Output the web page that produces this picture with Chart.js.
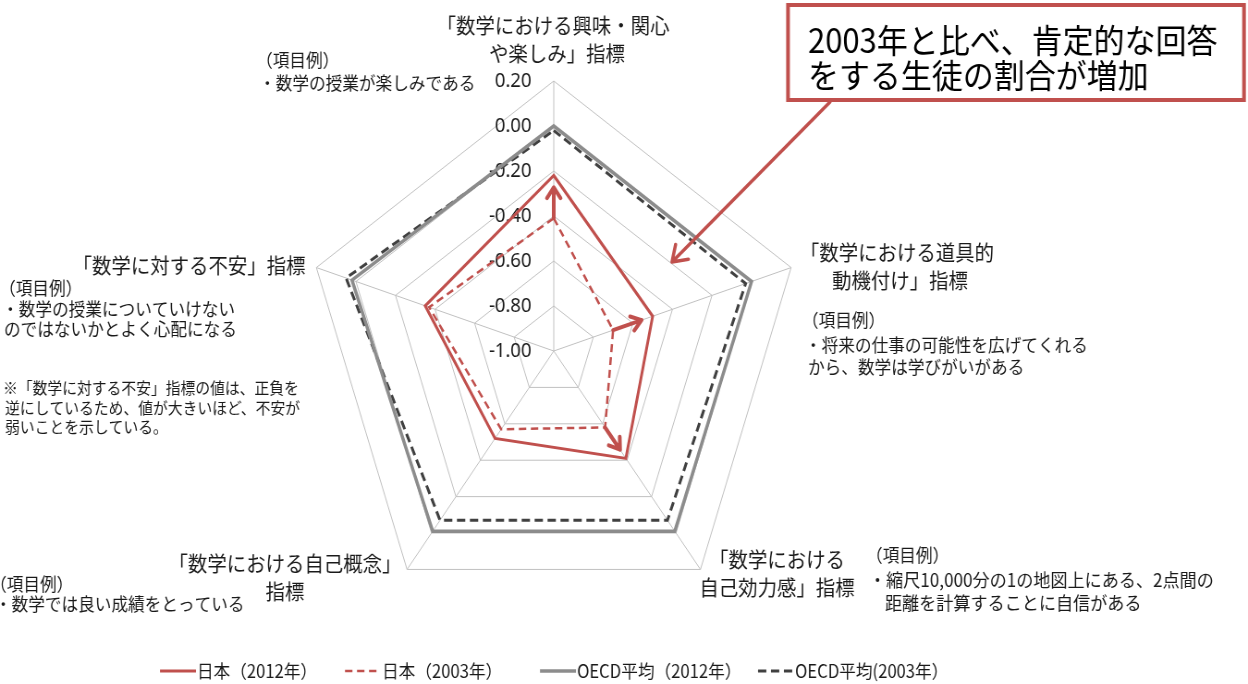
<!DOCTYPE html>
<html>
<head>
<meta charset="utf-8">
<script src="https://cdn.jsdelivr.net/npm/chart.js@4.4.1/dist/chart.umd.min.js"></script>
<style>
  body { margin: 0; background: #fff; }
</style>
</head>
<body>
<canvas id="radar" width="1350" height="684" style="display:block;width:1248px;height:684px"></canvas>
<script>
// axis names (top, then clockwise)
const categories = [
    ["「数学における興味・関心", "や楽しみ」指標"],
    ["「数学における道具的", "動機付け」指標"],
    ["「数学における", "自己効力感」指標"],
    ["「数学における自己概念」", "指標"],
    ["「数学に対する不安」指標"]
];
const seriesNames = ["日本（2012年）", "日本（2003年）", "OECD平均（2012年）", "OECD平均(2003年）"];
const japan2012 = [-0.22, -0.50, -0.41, -0.52, -0.35];
const japan2003 = [-0.41, -0.70, -0.58, -0.57, -0.37];
const oecd2012 = [0.00, 0.00, -0.01, -0.01, 0.02];
const oecd2003 = [-0.02, -0.03, -0.07, -0.07, 0.05];
const scaleMin = -1.0;
const scaleMax = 0.2;
const scaleStep = 0.2;

// the reference picture is squeezed sideways, so the canvas is drawn wider and shown at 1248px
const SX = 1248 / 1350;
const X = v => v / SX;
const RED = "#c0504d";
const INK = "#1a1a1a";
const JP = '"Noto Sans CJK JP", sans-serif';

function txt(ctx, s, x, y, size, align, color) {
    ctx.font = size + "px " + JP;
    ctx.textAlign = align || "left";
    ctx.textBaseline = "middle";
    ctx.fillStyle = color || INK;
    ctx.fillText(s, X(x), y);
}

function arrow(ctx, x1, y1, x2, y2, w, head) {
    const a = Math.atan2(y2 - y1, x2 - x1);
    ctx.save();
    ctx.strokeStyle = RED;
    ctx.lineWidth = w;
    ctx.lineCap = "round";
    ctx.lineJoin = "round";
    ctx.setLineDash([]);
    ctx.beginPath();
    ctx.moveTo(x1, y1);
    ctx.lineTo(x2, y2);
    ctx.moveTo(x2 - head * Math.cos(a - 0.6), y2 - head * Math.sin(a - 0.6));
    ctx.lineTo(x2, y2);
    ctx.lineTo(x2 - head * Math.cos(a + 0.6), y2 - head * Math.sin(a + 0.6));
    ctx.stroke();
    ctx.restore();
}

const tickLabels = {
    id: "tickLabels",
    beforeDatasetsDraw(chart) {
        const r = chart.scales.r;
        const ctx = chart.ctx;
        ctx.save();
        ctx.font = '20px "Noto Sans", sans-serif';
        ctx.textAlign = "right";
        ctx.textBaseline = "middle";
        ctx.fillStyle = INK;
        r.ticks.forEach(t => {
            const y = r.yCenter - r.getDistanceFromCenterForValue(t.value);
            const v = Math.abs(t.value) < 1e-9 ? 0 : t.value;
            ctx.fillText(v.toFixed(2), r.xCenter - 24, y);
        });
        ctx.restore();
    }
};

const notes = {
    id: "notes",
    afterDraw(chart) {
        const ctx = chart.ctx;
        const r = chart.scales.r;
        ctx.save();

        // axis names
        txt(ctx, categories[0][0], 553, 25, 21, "center");
        txt(ctx, categories[0][1], 557, 53, 21, "center");
        txt(ctx, categories[1][0], 897, 252, 21, "center");
        txt(ctx, categories[1][1], 900, 280, 21, "center");
        txt(ctx, categories[2][0], 777, 559, 21, "center");
        txt(ctx, categories[2][1], 777, 587, 21, "center");
        txt(ctx, categories[3][0], 285, 563, 21, "center");
        txt(ctx, categories[3][1], 285, 591, 21, "center");
        txt(ctx, categories[4][0], 189, 265, 21, "center");

        // item examples
        txt(ctx, "（項目例）", 256, 60, 18);
        txt(ctx, "・数学の授業が楽しみである", 259, 83, 18);
        txt(ctx, "（項目例）", -1, 288, 18);
        txt(ctx, "・数学の授業についていけない", 2, 309, 18);
        txt(ctx, "のではないかとよく心配になる", 4, 329, 18);
        txt(ctx, "※「数学に対する不安」指標の値は、正負を", 3, 388, 16);
        txt(ctx, "逆にしているため、値が大きいほど、不安が", 5, 408, 16);
        txt(ctx, "弱いことを示している。", 5, 427, 16);
        txt(ctx, "（項目例）", 802, 320, 18);
        txt(ctx, "・将来の仕事の可能性を広げてくれる", 805, 345, 18);
        txt(ctx, "から、数学は学びがいがある", 808, 367, 18);
        txt(ctx, "（項目例）", -10, 584, 18);
        txt(ctx, "・数学では良い成績をとっている", -5, 604, 18);
        txt(ctx, "（項目例）", 866, 555, 18);
        txt(ctx, "・縮尺10,000分の1の地図上にある、2点間の", 869, 580, 18.5);
        txt(ctx, "距離を計算することに自信がある", 885, 603, 18.5);

        // change arrows 2003 -> 2012 on the first three axes
        for (let i = 0; i < 3; i++) {
            const p0 = r.getPointPositionForValue(i, japan2003[i]);
            const p1 = r.getPointPositionForValue(i, japan2012[i]);
            const ex = p0.x + (p1.x - p0.x) * 0.72;
            const ey = p0.y + (p1.y - p0.y) * 0.72;
            arrow(ctx, p0.x, p0.y, ex, ey, 4, 13);
        }

        // callout
        ctx.fillStyle = "#fff";
        ctx.fillRect(X(788), 5, X(1244) - X(788), 95);
        ctx.strokeStyle = RED;
        ctx.lineWidth = 4;
        ctx.strokeRect(X(788), 5, X(1244) - X(788), 95);
        txt(ctx, "2003年と比べ、肯定的な回答", 808, 40, 33.5, "left", "#000");
        txt(ctx, "をする生徒の割合が増加", 808, 75, 33.5, "left", "#000");
        arrow(ctx, X(830), 102, X(672), 262, 3.5, 18);

        // legend
        const starts = [160, 345, 540, 758];
        chart.data.datasets.forEach((ds, i) => {
            const x0 = X(starts[i]);
            const y = 671;
            ctx.save();
            ctx.strokeStyle = ds.borderColor;
            ctx.lineWidth = ds.borderWidth;
            ctx.setLineDash(ds.borderDash || []);
            ctx.beginPath();
            ctx.moveTo(x0, y);
            ctx.lineTo(x0 + X(36), y);
            ctx.stroke();
            ctx.restore();
            ctx.font = "18px " + JP;
            ctx.textAlign = "left";
            ctx.textBaseline = "middle";
            ctx.fillStyle = INK;
            ctx.fillText(ds.label, x0 + X(37), y);
        });

        ctx.restore();
    }
};

new Chart(document.getElementById("radar"), {
    type: "radar",
    data: {
        labels: categories.map(c => c.join("")),
        datasets: [
            { label: seriesNames[0], data: japan2012, borderColor: RED, borderWidth: 3 },
            { label: seriesNames[1], data: japan2003, borderColor: RED, borderWidth: 2.5, borderDash: [8, 5] },
            { label: seriesNames[2], data: oecd2012, borderColor: "#8c8c8c", borderWidth: 3.5 },
            { label: seriesNames[3], data: oecd2003, borderColor: "#404040", borderWidth: 3, borderDash: [9, 5] }
        ]
    },
    options: {
        responsive: false,
        animation: false,
        devicePixelRatio: 1,
        layout: { padding: { left: 329, right: 481, top: 81, bottom: 63 } },
        elements: {
            line: { fill: false, tension: 0, borderJoinStyle: "miter" },
            point: { radius: 0, hoverRadius: 0 }
        },
        plugins: {
            legend: { display: false },
            tooltip: { enabled: false }
        },
        scales: {
            r: {
                min: scaleMin,
                max: scaleMax,
                beginAtZero: false,
                ticks: { display: false, stepSize: scaleStep },
                pointLabels: { display: false },
                grid: { color: "#c0c0c0", lineWidth: 1 },
                angleLines: { color: "#c0c0c0", lineWidth: 1 }
            }
        }
    },
    plugins: [tickLabels, notes]
});
</script>
</body>
</html>
